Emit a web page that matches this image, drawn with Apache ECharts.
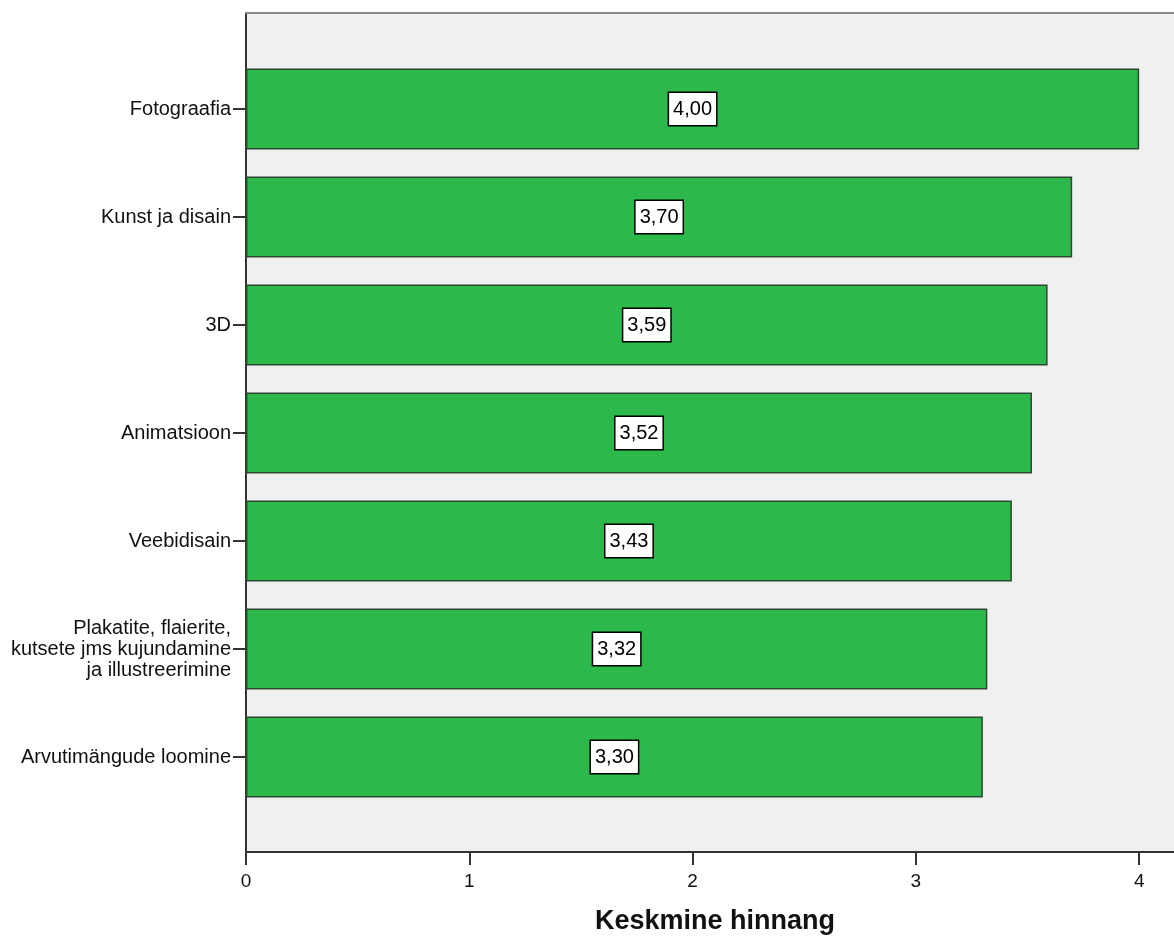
<!DOCTYPE html>
<html>
<head>
<meta charset="utf-8">
<script src="https://cdn.jsdelivr.net/npm/echarts@6/dist/echarts.min.js"></script>
<style>
  html, body { margin: 0; padding: 0; background: #fff; }
  #chart { width: 1174px; height: 938px; }
</style>
</head>
<body>
<div id="chart"></div>
<script>
// data (top to bottom)
const categories = [
  'Fotograafia',
  'Kunst ja disain',
  '3D',
  'Animatsioon',
  'Veebidisain',
  'Plakatite, flaierite,\nkutsete jms kujundamine\nja illustreerimine',
  'Arvutimängude loomine'
];
const meanScores = [4.00, 3.70, 3.59, 3.52, 3.43, 3.32, 3.30];
const xTicks = [0, 1, 2, 3, 4];
const axisTitle = 'Keskmine hinnang';

const font = '"Liberation Sans", Arial, sans-serif';
const xMax = 4.156; // plot runs off the right edge of the picture
const chart = echarts.init(document.getElementById('chart'));

chart.setOption({
  animation: false,
  textStyle: { fontFamily: font },
  grid: [
    // frame + background
    { left: 246, right: 0, top: 13, bottom: 86, show: true,
      backgroundColor: '#f0f0f0', borderWidth: 0 },
    // bars
    { left: 246, right: 0, top: 55, bottom: 127 }
  ],
  xAxis: [
    {
      gridIndex: 0, type: 'value', min: 0, max: xMax,
      axisLine: { show: true, lineStyle: { color: '#333', width: 2 } },
      axisTick: { show: true, length: 13, customValues: xTicks, lineStyle: { color: '#333', width: 2 } },
      axisLabel: {
        color: '#111', fontSize: 19, margin: 20, fontFamily: font,
        customValues: xTicks,
        formatter: v => String(v)
      },
      splitLine: { show: false }
    },
    {
      // top frame line
      gridIndex: 0, type: 'value', min: 0, max: xMax, position: 'top',
      axisLine: { show: true, lineStyle: { color: '#8a8a8a', width: 2 } },
      axisTick: { show: false }, axisLabel: { show: false }, splitLine: { show: false }
    },
    {
      gridIndex: 1, type: 'value', min: 0, max: xMax, show: false
    }
  ],
  yAxis: [
    {
      gridIndex: 0, type: 'value', min: 0, max: 1,
      axisLine: { show: true, lineStyle: { color: '#333', width: 2 } },
      axisTick: { show: false }, axisLabel: { show: false }, splitLine: { show: false }
    },
    {
      gridIndex: 1, type: 'category', data: categories, inverse: true,
      axisLine: { show: false },
      axisTick: { show: true, alignWithLabel: true, length: 13, lineStyle: { color: '#333', width: 2 } },
      axisLabel: {
        color: '#111', fontSize: 20, margin: 15, lineHeight: 21, fontFamily: font,
        align: 'right'
      }
    }
  ],
  graphic: [{
    type: 'text',
    x: 715, y: 922,
    style: {
      text: axisTitle, fill: '#111', fontSize: 27, fontWeight: 'bold',
      fontFamily: font, textAlign: 'center', textVerticalAlign: 'middle'
    }
  }],
  series: [{
    type: 'bar',
    xAxisIndex: 2, yAxisIndex: 1,
    data: meanScores,
    barCategoryGap: '25%',
    itemStyle: { color: '#2db84b', borderColor: '#2b4a31', borderWidth: 1.5 },
    label: {
      show: true, position: 'inside',
      formatter: p => p.value.toFixed(2).replace('.', ','),
      color: '#000', fontSize: 20, fontFamily: font,
      backgroundColor: '#fff', borderColor: '#000', borderWidth: 1.5,
      padding: [7, 4, 5, 4]
    }
  }]
});
</script>
</body>
</html>
